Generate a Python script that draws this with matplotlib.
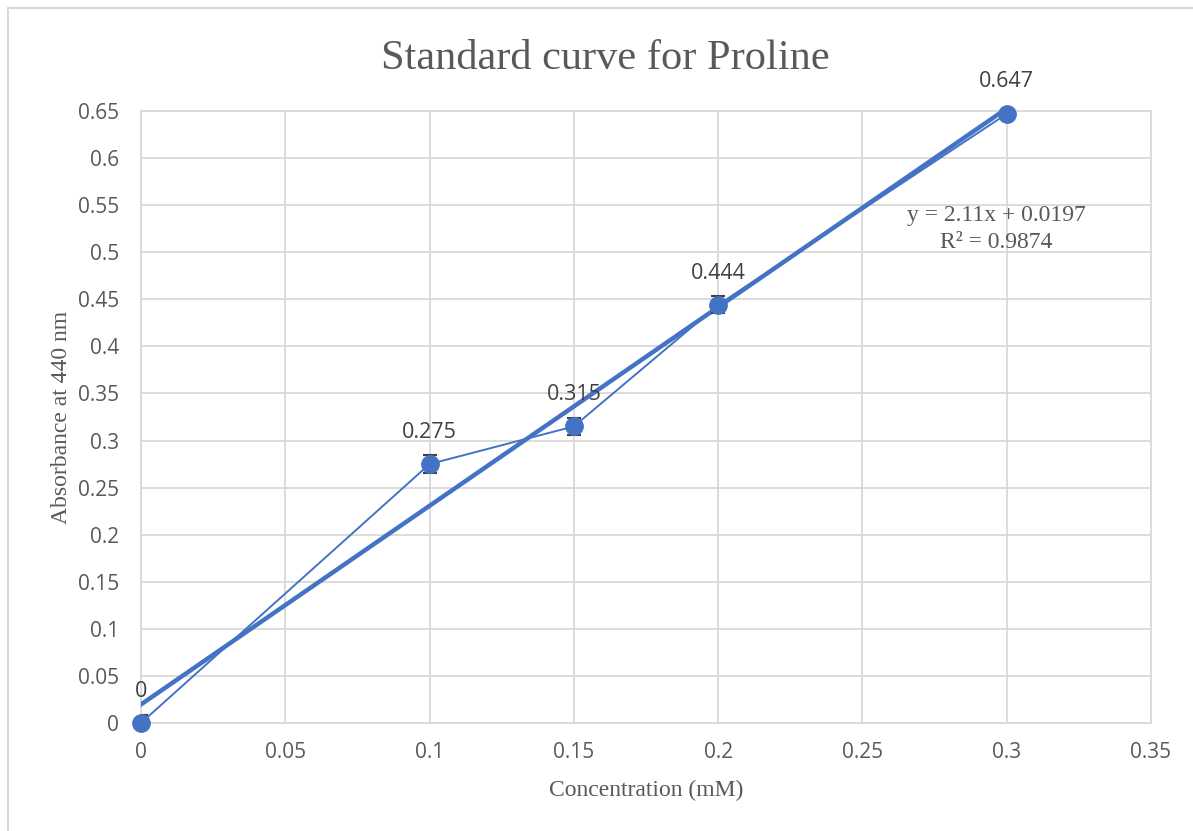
import matplotlib
matplotlib.use("Agg")
import matplotlib.pyplot as plt
from matplotlib.patches import Rectangle
import numpy as np

# data
conc = [0, 0.1, 0.15, 0.2, 0.3]
absorb = [0, 0.275, 0.315, 0.444, 0.647]
err = [0.008, 0.01, 0.009, 0.009, 0.006]
point_labels = ["0", "0.275", "0.315", "0.444", "0.647"]
slope = 2.11
intercept = 0.0197
r2 = 0.9874

blue = "#4472C4"
grey_txt = "#595959"
grid_col = "#D9D9D9"

fig = plt.figure(figsize=(11.93, 8.31), dpi=100)
ax = fig.add_axes([141/1193, 1 - 723/831, (1151 - 141)/1193, (723 - 111)/831])

# outer chart border (cropped on right/bottom)
fig.patches.append(Rectangle((8/1193, -0.01), 1.1, 1 - 8/831 + 0.01,
                             transform=fig.transFigure, fill=False,
                             edgecolor=grid_col, linewidth=1.5, zorder=0))

# trendline
xt = np.array([0, 0.3])
ax.plot(xt, slope * xt + intercept, color=blue, linewidth=3.2, zorder=3)

# data series
ax.plot(conc, absorb, color=blue, linewidth=1.4, zorder=4)
ax.errorbar(conc, absorb, yerr=err, fmt="none", ecolor="#404040",
            elinewidth=1.2, capsize=5, capthick=1.5, zorder=5)
ax.plot(conc, absorb, "o", color=blue, markersize=12.5, zorder=6, clip_on=False)

for x, y, s in zip(conc, absorb, point_labels):
    ax.annotate(s, (x, y), xytext=(0, 23), textcoords="offset points",
                ha="center", va="center", fontsize=15.5, color="#404040",
                family="Open Sans")

eq = "y = %.2fx + %.4f\nR² = %.4f" % (slope, intercept, r2)
ax.text(0.2963, 0.5247, eq, ha="center",
        va="center", fontsize=17, color=grey_txt, family="Liberation Serif",
        linespacing=1.4)

ax.set_xlim(0, 0.35)
ax.set_ylim(0, 0.65)
ax.set_xticks(np.arange(0, 0.351, 0.05))
ax.set_yticks(np.arange(0, 0.651, 0.05))
ax.set_xticklabels(["0", "0.05", "0.1", "0.15", "0.2", "0.25", "0.3", "0.35"])
ax.set_yticklabels(["0", "0.05", "0.1", "0.15", "0.2", "0.25", "0.3", "0.35",
                    "0.4", "0.45", "0.5", "0.55", "0.6", "0.65"])
for lab in ax.get_xticklabels() + ax.get_yticklabels():
    lab.set_family("Open Sans")
    lab.set_fontsize(15)
    lab.set_color(grey_txt)
ax.tick_params(axis="y", length=0, pad=16)
ax.tick_params(axis="x", length=0, pad=14)
ax.grid(True, color=grid_col, linewidth=1.3)
ax.set_axisbelow(True)
for sp in ax.spines.values():
    sp.set_color(grid_col)
    sp.set_linewidth(1.3)

fig.text(605/1193, 1 - 59/831, "Standard curve for Proline", fontsize=30.5,
         color=grey_txt, family="Liberation Serif", ha="center", va="center")
ax.set_xlabel("Concentration (mM)", fontsize=17, color=grey_txt,
              family="Liberation Serif", labelpad=12)
ax.set_ylabel("Absorbance at 440 nm", fontsize=17, color=grey_txt,
              family="Liberation Serif", labelpad=4)

fig.savefig("out.png", dpi=100)
